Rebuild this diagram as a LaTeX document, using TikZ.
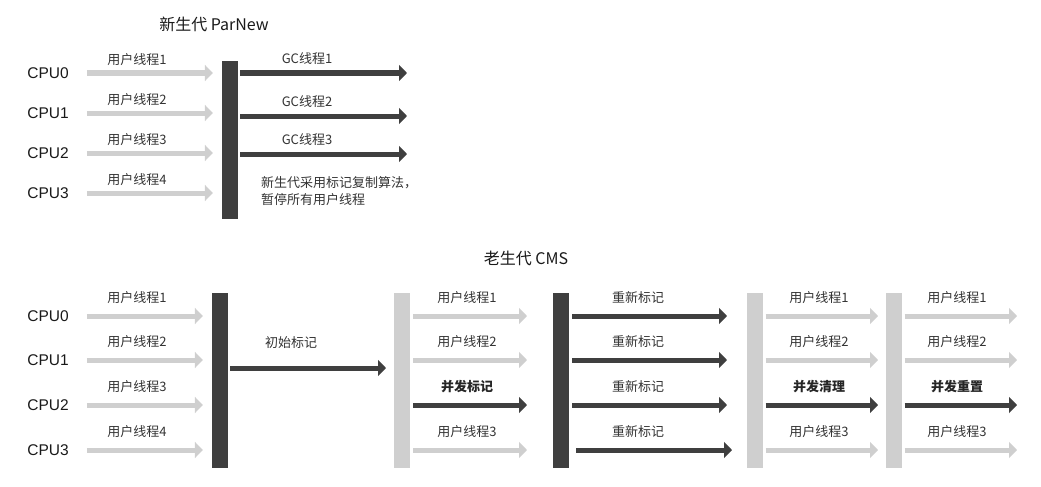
\documentclass[tikz,border=0pt]{standalone}
\usepackage{fontspec}
\setmainfont{Noto Sans CJK SC}
\newfontfamily\cpufont{Liberation Sans}
\usetikzlibrary{arrows.meta}

\definecolor{bardark}{HTML}{3F3F3F}
\definecolor{barlight}{HTML}{CFCFCF}

\begin{document}
\begin{tikzpicture}[
  x=1pt, y=-1pt,
  font=\fontsize{13}{17}\selectfont,
  cpu/.style={font=\cpufont\fontsize{15.5}{18}\selectfont, inner sep=0pt, text=black!90},
  lbl/.style={inner sep=0pt, text=black!80},
  boldlbl/.style={inner sep=0pt, text=black!85, font=\fontsize{13}{17}\selectfont\bfseries},
  title/.style={inner sep=0pt, text=black!90, font=\fontsize{16}{18}\selectfont},
  bar/.style={fill=#1, minimum width=16pt, minimum height=175pt, inner sep=0pt},
  user/.style={-{Triangle[length=8pt,width=16pt]}, line width=5pt, draw=barlight},
  gc/.style={-{Triangle[length=8pt,width=16pt]}, line width=5pt, draw=bardark}
]
\useasboundingbox (0,0) rectangle (1041,487);

% young generation: ParNew
\node[title] (ptitle) at (214,24) {新生代 ParNew};
\node[bar=bardark, minimum height=158pt] (pbar) at (230,140) {};

\foreach \i/\n/\y in {0/1/73,1/2/113,2/3/153,3/4/193}{
  \node[cpu] (pcpu\i) at (48,\y) {CPU\i};
  \node[lbl] (puser\i) at (137,\y-13) {用户线程\n};
  \draw[user, shorten <=18pt, shorten >=9pt] (pcpu\i) -- (pbar.west |- pcpu\i);
}

\foreach \n/\y in {1/73,2/116,3/154}{
  \coordinate (pend\n) at (407,\y);
  \node[lbl] (pgc\n) at (307,\y-14) {GC线程\n};
  \draw[gc, shorten <=2pt] (pbar.east |- pend\n) -- (pend\n);
}

\node[lbl, anchor=west, align=left] (pnote) at (261,191.5) {新生代采用标记复制算法，\\暂停所有用户线程};

% old generation: CMS
\node[title] (ctitle) at (526,258) {老生代 CMS};

\node[bar=bardark] (bar1) at (220,380.5) {};
\node[bar=barlight] (bar2) at (402,380.5) {};
\node[bar=bardark] (bar3) at (561,380.5) {};
\node[bar=barlight] (bar4) at (754.5,380.5) {};
\node[bar=barlight] (bar5) at (893.5,380.5) {};

\foreach \i/\n/\y in {0/1/316,1/2/360,2/3/405,3/4/450}{
  \node[cpu] (ccpu\i) at (48,\y) {CPU\i};
  \node[lbl] (cuser\i) at (137,\y-18) {用户线程\n};
  \draw[user, shorten <=18pt, shorten >=9pt] (ccpu\i) -- (bar1.west |- ccpu\i);
}

% initial mark
\coordinate (initend) at (386,368);
\node[lbl] (cinit) at (291,343) {初始标记};
\draw[gc, shorten <=2pt] (bar1.east |- initend) -- (initend);

% concurrent phases
\foreach \b/\e/\lx/\phase in {bar2/527/467/并发标记, bar4/878/819/并发清理, bar5/1017/957/并发重置}{
  \foreach \r/\y/\t in {1/316/用户线程1, 2/360/用户线程2, 4/450/用户线程3}{
    \coordinate (\b-end\r) at (\e,\y);
    \node[lbl] (\b-lbl\r) at (\lx,\y-18) {\t};
    \draw[user, shorten <=3pt] (\b.east |- \b-end\r) -- (\b-end\r);
  }
  \coordinate (\b-end3) at (\e,405);
  \node[boldlbl] (\b-lbl3) at (\lx,387) {\phase};
  \draw[gc, shorten <=3pt] (\b.east |- \b-end3) -- (\b-end3);
}

% remark
\foreach \r/\y/\s/\e in {1/316/3pt/727, 2/360/3pt/727, 3/405/3pt/727, 4/450/7pt/732}{
  \coordinate (bar3-end\r) at (\e,\y);
  \node[lbl] (bar3-lbl\r) at (638,\y-18) {重新标记};
  \draw[gc, shorten <=\s] (bar3.east |- bar3-end\r) -- (bar3-end\r);
}

\end{tikzpicture}
\end{document}
